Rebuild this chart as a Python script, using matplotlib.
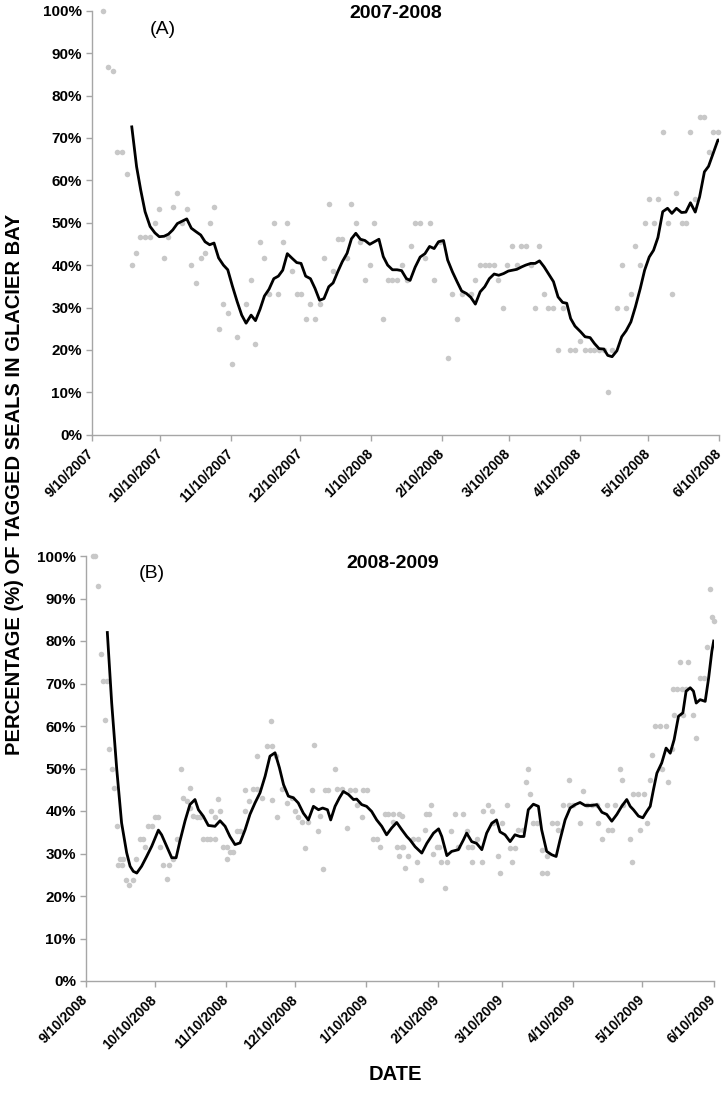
import numpy as np
import pandas as pd
import matplotlib
matplotlib.use("Agg")
import matplotlib.pyplot as plt

plt.rcParams['font.family'] = ['Liberation Sans', 'DejaVu Sans']

# ---- panel A: 2007-2008 (days after 9/10/2007, percent) ----
a_start = "2007-09-10"
a_end = "2008-06-10"
a_pt_days = [5, 7.3, 9.4, 10.9, 13.4, 15.6, 17.5, 19.3, 21.1, 23.3, 25.5, 27.6, 29.5, 31.6,
             33.5, 35.4, 37.4, 39.4, 41.5, 43.5, 45.5, 47.6, 49.5, 51.5, 53.4, 55.4, 57.5,
             59.4, 61.4, 63.5, 67.4, 69.6, 71.5, 73.5, 75.4, 77.4, 79.5, 81.5, 83.4, 85.4,
             87.5, 89.5, 91.4, 93.4, 95.5, 97.5, 99.5, 101.4, 103.5, 105.4, 107.4, 109.4,
             111.5, 113.4, 115.3, 117.3, 119.3, 121.4, 123.4, 127.3, 129.2, 131.3, 133.3,
             135.3, 137.5, 139.4, 141.2, 143.4, 145.5, 147.5, 149.5, 152, 155.4, 157.5,
             159.5, 161.5, 165.5, 167.5, 169.6, 171.6, 173.6, 175.7, 177.4, 179.5, 181.5,
             183.5, 185.6, 187.5, 189.5, 191.7, 193.6, 195.5, 197.5, 199.4, 201.6, 203.5,
             205.6, 208.9, 211, 213.4, 215.4, 217.6, 219.5, 221.5, 223.6, 225.3, 227.2,
             229.3, 231.4, 233.3, 235.4, 237.4, 239.5, 241.4, 243.4, 245.3, 247.2, 249.3,
             251.4, 253.3, 255.3, 257.5, 259.4, 261.4, 263.5, 265.4, 267.5, 269.3, 271.3,
             273.4]
a_pt_vals = [100, 86.7, 85.7, 66.7, 66.7, 61.5, 40, 42.9, 46.7, 46.7, 46.7, 50, 53.3, 41.7,
             46.7, 53.8, 57.1, 50, 53.3, 40, 35.7, 41.7, 42.9, 50, 53.8, 25, 30.8,
             28.6, 16.7, 23.1, 30.8, 36.4, 21.4, 45.5, 41.7, 33.3, 50, 33.3, 45.5, 50,
             38.5, 33.3, 33.3, 27.3, 30.8, 27.3, 30.8, 41.7, 54.5, 38.5, 46.2, 46.2,
             41.7, 54.5, 50, 45.5, 36.4, 40, 50, 27.3, 36.4, 36.4, 36.4,
             40, 36.4, 44.4, 50, 50, 41.7, 50, 36.4, 45.5, 18.2, 33.3,
             27.3, 33.3, 33.3, 36.4, 40, 40, 40, 40, 36.4, 30, 40,
             44.4, 40, 44.4, 44.4, 40, 30, 44.4, 33.3, 30, 30, 20,
             30, 20, 20, 22.2, 20, 20, 20, 20, 20, 10, 20,
             30, 40, 30, 33.3, 44.4, 40, 50, 55.6, 50, 55.6, 71.4,
             50, 33.3, 57.1, 50, 50, 71.4, 55.6, 75, 75, 66.7, 71.4,
             71.4]
a_ln_days = [17.5, 19.6, 21.4, 23.3, 25.5, 27.6, 29.5, 31.6, 33.5, 35.4, 37.4, 41.5, 43.5,
             45.5, 47.6, 49.5, 51.5, 53.4, 55.4, 57.5, 59.4, 61.4, 63.5, 65.5, 67.4, 69.6,
             71.5, 73.5, 75.4, 77.4, 79.5, 81.5, 83.4, 85.4, 87.5, 89.5, 91.4, 93.4, 95.5,
             97.5, 99.5, 101.4, 103.5, 105.4, 107.4, 109.4, 111.5, 113.4, 115.3, 117.3,
             119.3, 121.4, 123.4, 125.4, 127.3, 129.2, 131.3, 133.3, 135.3, 137.4, 139,
             141.2, 143.4, 145.5, 147.5, 149.5, 151.4, 153.6, 155.4, 157.5, 159.5, 161.5,
             163.6, 165.5, 167.5, 169.6, 171.6, 173.6, 175.7, 177.7, 179.8, 181.9, 185.6,
             187.8, 189.5, 191.7, 193.6, 195.5, 197.5, 199.4, 201.6, 203.6, 205.6, 207.4,
             209.1, 211, 213.4, 215.4, 217.6, 219.5, 221.5, 223.6, 225.3, 227.2, 229.3,
             231.4, 233.3, 235.4, 237.4, 239.5, 241.4, 243.4, 245.3, 247.2, 249.3, 251.4,
             253.3, 255.3, 257.5, 259.4, 261.4, 263.5, 265.4, 267.5, 269.3, 271.3, 273.4,
             274]
a_ln_vals = [72.6, 63.2, 57.7, 52.6, 49.1, 47.6, 46.7, 46.8, 47.3, 48.3, 49.8, 50.9, 48.7,
             47.9, 47.1, 45.5, 44.8, 45.2, 41.7, 40, 38.9, 35.1, 31.4, 28.2, 26.3, 28.2,
             26.9, 29.6, 32.7, 34.3, 36.8, 37.4, 38.8, 42.7, 41.6, 40.6, 40.4, 37.4, 36.8,
             34.5, 31.7, 32.1, 34.9, 35.8, 38.4, 40.8, 42.8, 46.2, 47.5, 46.1,
             45.8, 44.9, 45.5, 46.1, 42.0, 40, 38.9, 38.9, 38.7, 36.8, 36.4,
             39.5, 41.9, 42.7, 44.4, 43.9, 45.5, 45.8, 41.2, 38.4, 36.1, 33.9,
             33.3, 32.4, 30.8, 33.7, 34.9, 36.8, 37.9, 37.6, 38.0, 38.6, 39.0,
             39.6, 40.0, 40.4, 40.4, 41.0, 39.6, 38.0, 36.1, 32.5, 31.2, 31.0,
             27.4, 25.6, 24.3, 23.1, 22.9, 21.5, 20.3, 20.2, 18.7, 18.4, 19.8,
             23.1, 24.5, 26.6, 30.2, 34.5, 38.8, 41.9, 43.5, 46.5, 52.6, 53.4,
             52.2, 53.4, 52.4, 52.5, 54.7, 52.5, 56.1, 62.0, 63.3, 66.3, 69.5,
             69.5]

# ---- panel B: 2008-2009 (days after 9/10/2008, percent) ----
b_start = "2008-09-10"
b_end = "2009-06-10"
b_pt_days = [3, 4, 5.5, 6.5, 7.7, 9.1, 8.4, 10.3, 11.3, 12.3, 13.5, 14.9, 16.4, 14.2, 15.6,
             17.5, 19, 20.4, 21.9, 23.6, 24.8, 25.8, 27.2, 28.7, 30.1, 31.6, 32.3, 33.5,
             35.2, 36.4, 37.8, 39.5, 41.3, 42.4, 43.9, 45.3, 45.3, 46.8, 48.2, 49.7, 51.1,
             52.6, 54, 56.2, 54.3, 56.2, 57.4, 58.4, 59.8, 61.3, 61.3, 62.7, 64.2, 65.6,
             67.1, 69.3, 69.3, 71.1, 72.9, 74.3, 74.3, 76.5, 78.7, 80.8, 80.4, 80.8, 82.6,
             83.0, 85.2, 87.4, 89.5, 91.0, 92.4, 93.9, 95.3, 96.8, 98.2, 99.3, 101.2, 102,
             103.3, 104.0, 105.5, 108.4, 109.1, 111.3, 113.5, 114.9, 117.1, 117.8, 120,
             120.7, 122.2, 125.1, 126.6, 128, 130.1, 131.6, 133.8, 136, 133.8, 135.2,
             137.4, 136, 138.8, 137.4, 138.1, 139.9, 142.4, 144.6, 144.2, 145.9, 147.5,
             147.8, 149.3, 150, 150.8, 152.6, 153.7, 154.5, 156.9, 156.2, 158.9, 160.7,
             164.2, 161.8, 165.6, 166.3, 167.8, 167.8, 169.9, 172.2, 172.9, 175, 176.5,
             177.2, 179.1, 180.1, 180.8, 183.3, 184.5, 186.6, 185.2, 188.1, 190.2, 191.3,
             192.2, 193.2, 194.6, 196.1, 198.2, 198.2, 200.4, 200.4, 202.6, 204.8, 205.5,
             207.7, 209.9, 210.3, 212.0, 214.9, 216.1, 217.8, 220, 222.2, 222.9, 224.4,
             226.5, 227.2, 228.7, 230.1, 232.3, 233, 233.7, 236.4, 237.4, 238.1, 240.3,
             242.5, 241, 243.9, 245.1, 246.1, 247.6, 249.7, 250.4, 252.3, 253.3, 254.8,
             255.8, 255.2, 257, 259.1, 261, 258.4, 262, 259.8, 264.1, 265.1, 266.9, 268.7,
             270, 271.2, 272.2, 273]
b_pt_vals = [100, 100, 92.9, 76.9, 70.6, 70.6, 61.5, 54.5, 50, 45.5, 36.4, 28.6, 28.6, 27.3, 27.3,
             23.8, 22.7, 23.8, 28.6, 33.3, 33.3, 31.6, 36.4, 36.4, 38.5, 38.5, 31.6, 27.3,
             24.0, 27.3, 28.6, 33.3, 50, 43.1, 42.3, 45.4, 40.7, 38.8, 38.5, 38.5, 33.3,
             33.3, 33.3, 33.3, 40.0, 38.5, 42.9, 40, 31.6, 31.6, 28.6, 30.3, 30.3, 35.3,
             35.3, 45, 40, 42.3, 45.2, 45.2, 52.9, 43.1, 55.3, 55.3, 61.1, 42.7, 52.9,
             38.5, 45.2, 41.8, 43.1, 40, 38.5, 37.3, 31.4, 37.3, 45.0, 55.6, 35.3, 38.8,
             26.3, 45, 45, 50, 45.2, 45.2, 36.0, 45, 45, 41.5, 38.6,
             45, 45, 33.3, 33.3, 31.6, 39.2, 39.2, 39.2, 39.2, 37.3, 31.5,
             31.5, 29.5, 26.6, 38.8, 31.6, 29.3, 33.3, 33.3, 28.1, 23.8, 35.6,
             39.2, 39.2, 41.5, 29.9, 31.6, 31.6, 28.1, 28.1, 21.9, 35.3, 39.2,
             39.2, 31.6, 35.3, 31.6, 31.6, 28.1, 33.3, 28.1, 40, 41.5, 40,
             37.1, 29.5, 25.4, 37.1, 41.5, 31.3, 31.3, 28.1, 35.6, 35.6, 46.9,
             50, 44.0, 37.1, 37.1, 30.8, 25.4, 25.4, 29.3, 37.1, 37.1, 35.6,
             41.5, 41.5, 47.2, 41.5, 37.1, 44.6, 41.5, 41.5, 41.5, 37.1, 33.3,
             41.5, 35.6, 35.6, 41.5, 50, 47.2, 41.5, 33.3, 28.1, 44.0, 44.0,
             44.0, 35.6, 37.1, 47.2, 53.1, 60, 60, 50, 60, 46.9, 54.7,
             62.5, 68.8, 68.8, 68.8, 68.8, 75, 75, 62.5, 62.5, 57.1, 71.4, 71.4,
             78.6, 92.3, 85.7, 84.6]
b_ln_days = [9.4, 11.3, 13.5, 15.6, 17.8, 19.3, 20.7, 22.2, 24.3, 26.5, 28.7, 31.6, 33.0,
             35.2, 37.4, 39.3, 41.0, 43.2, 45.3, 47.5, 49.0, 51.1, 53.3, 56.2, 58.4, 60.6,
             62.7, 64.9, 67.1, 69.3, 71.4, 73.6, 75.8, 78.0, 80.1, 82.3, 84.2, 86.0, 88.1,
             90.3, 92.4, 94.6, 96.8, 99.0, 101.2, 103, 105.1, 106.5, 108.4, 110.3, 112,
             114.2, 116.4, 117.8, 120, 122.1, 124.3, 126.5, 128.7, 130.8, 133, 135.2,
             137.4, 139.6, 141.0, 143.2, 146.1, 148.3, 151.2, 153.4, 154.8, 157.0, 159.1,
             162.0, 164.2, 165.6, 167.8, 169.9, 172.2, 174.3, 176.5, 178.6, 180.1, 182.3,
             184.5, 186.6, 188.8, 190.5, 192.4, 194.6, 196.8, 198.2, 200.4, 202.6, 204.5,
             206.2, 208.4, 210.6, 212.8, 214.9, 217.1, 220, 222.2, 224.4, 226.5, 228.7,
             230.9, 233.0, 235.2, 236.7, 238.1, 240.3, 242.2, 243.9, 245.4, 246.8, 248.3,
             250.4, 252.3, 254.1, 255.8, 257.7, 259.6, 261.0, 262.8, 264.2, 265.4, 267.1,
             269.3, 270.8, 272.2, 273]
b_ln_vals = [82.0, 65.4, 49.8, 37.2, 30.2, 27.0, 25.8, 25.4, 27.0, 29.3, 31.7, 35.5, 34.4,
             31.7, 29.0, 29.0, 33.0, 37.7, 41.5, 42.7, 40.3, 38.8, 36.6, 36.4, 37.7, 36.4,
             34.0, 32.1, 32.5, 35.6, 39.2, 41.9, 44.3, 48.2, 52.9, 53.7, 50.2, 46.2, 43.5,
             43.1, 41.9, 39.5, 37.9, 41.1, 40.3, 40.7, 40.3, 37.9, 41.1, 43.1, 44.6,
             43.9, 42.7, 42.8, 41.5, 41.1, 39.9, 37.9, 36.4, 34.4, 36.0, 37.3,
             35.6, 34.0, 33.2, 31.6, 30.1, 32.4, 34.8, 35.8, 34.0, 29.5, 30.5,
             30.9, 33.2, 34.8, 32.8, 32.4, 30.9, 34.8, 37.1, 37.9, 35.1, 34.4,
             32.8, 34.4, 34.0, 34.0, 40.3, 41.6, 41.1, 35.6, 30.5, 29.7, 29.3,
             33.2, 37.9, 40.7, 41.5, 42.0, 41.3, 41.3, 41.5, 39.7, 39.2, 37.6,
             39.2, 41.1, 42.7, 41.1, 40.3, 38.8, 38.4, 39.9, 41.1, 45.0, 48.9,
             51.3, 54.8, 53.6, 56.8, 62.3, 63.1, 68.2, 69.0, 68.2, 65.4, 66.2,
             65.8, 71.3, 77.6, 80.0]

a_title = "2007-2008"
b_title = "2008-2009"
y_label = "PERCENTAGE (%) OF TAGGED SEALS IN GLACIER BAY"
x_label = "DATE"

W, H = 726, 1094
fig = plt.figure(figsize=(W / 100, H / 100), dpi=100)

axis_grey = "#a6a6a6"
dot_grey = "#c8c8c8"


def to_dates(start, days):
    return pd.Timestamp(start) + pd.to_timedelta(np.asarray(days, dtype=float), unit="D")


def draw_panel(rect, start, end, pdays, pvals, ldays, lvals):
    ax = fig.add_axes(rect)
    ax.scatter(to_dates(start, pdays), np.asarray(pvals) / 100, s=16, color=dot_grey,
               linewidths=0, zorder=2, clip_on=False)
    ax.plot(to_dates(start, ldays), np.asarray(lvals) / 100, color="black", lw=2.0,
            zorder=3, solid_joinstyle="round")
    ax.set_xlim(pd.Timestamp(start), pd.Timestamp(end))
    ax.set_ylim(0, 1)
    ticks = pd.date_range(start, end, freq=pd.DateOffset(months=1))
    ax.set_xticks(ticks)
    # rotated labels end at their tick, as in the original
    ax.set_xticklabels([f"{t.month}/{t.day}/{t.year}" for t in ticks], rotation=45,
                       ha="right", va="center", rotation_mode="anchor", fontsize=10,
                       fontweight="bold")
    ax.set_yticks(np.arange(0, 1.01, 0.1))
    ax.set_yticklabels([f"{int(round(v * 100))}%" for v in np.arange(0, 1.01, 0.1)],
                       fontsize=11, fontweight="bold")
    for s in ["top", "right"]:
        ax.spines[s].set_visible(False)
    for s in ["left", "bottom"]:
        ax.spines[s].set_color(axis_grey)
        ax.spines[s].set_linewidth(1.0)
    ax.tick_params(axis="both", color=axis_grey, length=4, width=1, direction="out")
    ax.tick_params(axis="x", pad=8)
    ax.tick_params(axis="y", pad=3)
    return ax


ax_a = draw_panel([91.7 / W, 1 - 434.7 / H, (719.3 - 91.7) / W, (434.7 - 10.7) / H],
                  a_start, a_end, a_pt_days, a_pt_vals, a_ln_days, a_ln_vals)
ax_b = draw_panel([85.7 / W, 1 - 981 / H, (713.7 - 85.7) / W, (981 - 556) / H],
                  b_start, b_end, b_pt_days, b_pt_vals, b_ln_days, b_ln_vals)

fig.text(396 / W, 1 - 14 / H, a_title, ha="center", va="center", fontsize=14, fontweight="bold")
fig.text(163 / W, 1 - 29 / H, "(A)", ha="center", va="center", fontsize=14)
fig.text(393 / W, 1 - 563 / H, b_title, ha="center", va="center", fontsize=14, fontweight="bold")
fig.text(152 / W, 1 - 574 / H, "(B)", ha="center", va="center", fontsize=14)

fig.text(15 / W, 1 - 484 / H, y_label, rotation=90, ha="center", va="center",
         fontsize=14.5, fontweight="bold")
fig.text(395 / W, 1 - 1075 / H, x_label, ha="center", va="center", fontsize=14.5,
         fontweight="bold")

fig.savefig("out.png", dpi=100)
